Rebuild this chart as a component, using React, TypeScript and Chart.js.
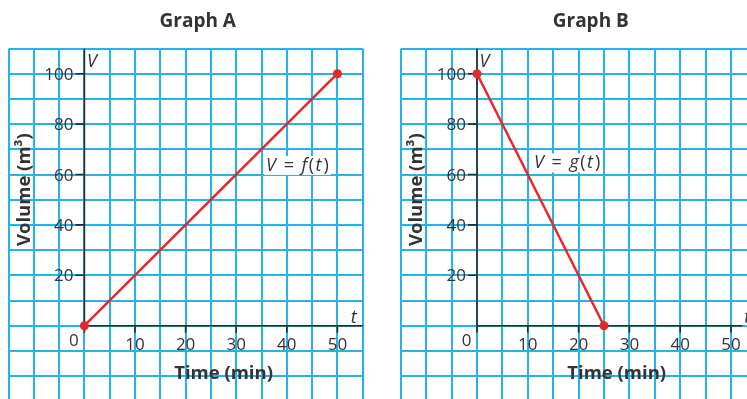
import React, { useEffect, useRef } from "react";
import { Chart, registerables } from "chart.js";

Chart.register(...registerables);

// ---------- data ----------
const graphTitles = ["Graph A", "Graph B"];
const timeA = [0, 50];
const volumeA = [0, 100];
const timeB = [0, 25];
const volumeB = [100, 0];
const timeTickLabels = [10, 20, 30, 40, 50];
const volumeTickLabels = [20, 40, 60, 80, 100];
const functionNames = ["f", "g"];
const xAxisTitle = "Time (min)";
const yAxisTitle = "Volume (m³)";

// ---------- style ----------
const GRID = "#22b4ea";
const AXIS = "#2a2a2a";
const RED = "#e8262c";
const TEXT = "#333333";
const FONT = '"Open Sans", "Noto Sans", sans-serif';
const CANVAS_H = 410;

type Panel = {
  title: string;
  fn: string;
  times: number[];
  volumes: number[];
  left: number;
  width: number;
  padding: { left: number; right: number; top: number; bottom: number };
  tAxisEnd: number;
  fnPos: { t: number; v: number };
};

const panels: Panel[] = [
  {
    title: graphTitles[0],
    fn: functionNames[0],
    times: timeA,
    volumes: volumeA,
    left: 0,
    width: 373,
    padding: { left: 8.5, right: 10.3, top: 48.5, bottom: 8.7 },
    tAxisEnd: 55,
    fnPos: { t: 35.9, v: 61.4 },
  },
  {
    title: graphTitles[1],
    fn: functionNames[1],
    times: timeB,
    volumes: volumeB,
    left: 373,
    width: 400,
    padding: { left: 27.8, right: 16.6, top: 48.5, bottom: 8.7 },
    tAxisEnd: 52.2,
    fnPos: { t: 11.2, v: 62.4 },
  },
];

function PanelChart({ cfg }: { cfg: Panel }) {
  const ref = useRef<HTMLCanvasElement>(null);
  useEffect(() => {
    const canvas = ref.current!;
    const overlay = {
      id: "overlay",
      beforeDatasetsDraw(chart: any) {
        const { ctx, chartArea } = chart;
        const xs = chart.scales.x;
        const ys = chart.scales.y;
        const X = (v: number) => xs.getPixelForValue(v);
        const Y = (v: number) => ys.getPixelForValue(v);
        const x0 = X(0);
        const y0 = Y(0);
        ctx.save();
        // axes + tick marks
        ctx.strokeStyle = AXIS;
        ctx.lineWidth = 1.6;
        ctx.beginPath();
        ctx.moveTo(x0, chartArea.top);
        ctx.lineTo(x0, y0 + 7);
        ctx.moveTo(x0, y0);
        ctx.lineTo(X(cfg.tAxisEnd), y0);
        for (const v of volumeTickLabels) {
          ctx.moveTo(x0 - 9, Y(v));
          ctx.lineTo(x0, Y(v));
        }
        for (const v of timeTickLabels) {
          ctx.moveTo(X(v), y0);
          ctx.lineTo(X(v), y0 + 7);
        }
        ctx.stroke();

        // tick labels
        ctx.fillStyle = TEXT;
        ctx.font = `17px ${FONT}`;
        ctx.textBaseline = "alphabetic";
        ctx.textAlign = "right";
        for (const v of volumeTickLabels) ctx.fillText(String(v), x0 - 11, Y(v) + 6);
        ctx.textAlign = "center";
        for (const v of timeTickLabels) ctx.fillText(String(v), X(v), y0 + 24);
        ctx.fillText("0", x0 - 10.5, y0 + 20.5);

        // axis letters
        ctx.font = `italic 18px ${FONT}`;
        ctx.textAlign = "left";
        ctx.fillText("V", x0 + 2.5, chartArea.top + 18);
        ctx.textAlign = "center";
        ctx.fillText("t", X(53.2), y0 - 3);

        // titles
        ctx.font = `bold 19px ${FONT}`;
        ctx.fillText(cfg.title, X(22.4), 27);
        ctx.font = `bold 18.5px ${FONT}`;
        ctx.fillText(xAxisTitle, X(27.5), y0 + 53);
        ctx.save();
        ctx.translate(X(-12.5) + 8.5, Y(54));
        ctx.rotate(-Math.PI / 2);
        ctx.textAlign = "center";
        ctx.fillText(yAxisTitle, 0, 0);
        ctx.restore();

        // function label with white background
        const segs: [string, string, number][] = [
          ["V", "italic", 3],
          [" = ", "normal", 3],
          [cfg.fn, "italic", 1.5],
          ["(", "normal", 1.5],
          ["t", "italic", 2],
          [")", "normal", 0],
        ];
        const size = 18;
        let w = 0;
        const widths: number[] = [];
        for (const [s, st, extra] of segs) {
          ctx.font = `${st} ${size}px ${FONT}`;
          const m = ctx.measureText(s).width + extra;
          widths.push(m);
          w += m;
        }
        const lx = X(cfg.fnPos.t);
        const ly = Y(cfg.fnPos.v);
        ctx.fillStyle = "#ffffff";
        ctx.fillRect(lx - 2, ly - 15, w + 4, 19);
        ctx.fillStyle = TEXT;
        ctx.textAlign = "left";
        let cx = lx;
        segs.forEach(([s, st], i) => {
          ctx.font = `${st} ${size}px ${FONT}`;
          ctx.fillText(s, cx, ly);
          cx += widths[i];
        });
        ctx.restore();
      },
    };

    const chart = new Chart(canvas, {
      type: "line",
      data: {
        datasets: [
          {
            data: cfg.times.map((t, i) => ({ x: t, y: cfg.volumes[i] })),
            borderColor: RED,
            backgroundColor: RED,
            borderWidth: 2.5,
            pointRadius: 4.5,
            pointHoverRadius: 4.5,
            pointBorderWidth: 0,
            pointBackgroundColor: RED,
            fill: false,
            tension: 0,
            clip: false as any,
          },
        ],
      },
      options: {
        animation: false,
        responsive: false,
        maintainAspectRatio: false,
        devicePixelRatio: 1,
        events: [],
        layout: { padding: cfg.padding },
        plugins: {
          legend: { display: false },
          title: { display: false },
          tooltip: { enabled: false },
        },
        scales: {
          x: {
            type: "linear",
            min: -15,
            max: 55,
            ticks: { display: false, stepSize: 5 },
            grid: { color: GRID, lineWidth: 2, drawTicks: false },
            border: { display: false },
          },
          y: {
            type: "linear",
            min: -30,
            max: 110,
            ticks: { display: false, stepSize: 10 },
            grid: { color: GRID, lineWidth: 2, drawTicks: false },
            border: { display: false },
          },
        },
      },
      plugins: [overlay],
    });
    return () => chart.destroy();
  }, [cfg]);
  return (
    <canvas
      ref={ref}
      width={cfg.width}
      height={CANVAS_H}
      style={{
        position: "absolute",
        left: cfg.left,
        top: 0,
        width: cfg.width,
        height: CANVAS_H,
      }}
    />
  );
}

export default function App() {
  return (
    <div
      style={{
        position: "fixed",
        left: 0,
        top: 0,
        width: 747,
        height: 399,
        overflow: "hidden",
        background: "#ffffff",
      }}
    >
      {panels.map((p) => (
        <PanelChart key={p.title} cfg={p} />
      ))}
    </div>
  );
}
